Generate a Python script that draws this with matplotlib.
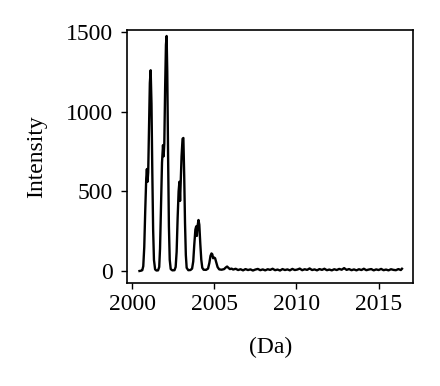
import matplotlib
matplotlib.use("Agg")
import matplotlib.pyplot as plt

# mass (Da) and intensity
mass = [
    2000.45, 2000.55, 2000.62, 2000.68, 2000.74, 2000.80, 2000.86, 2000.90,
    2000.94, 2000.98, 2001.03, 2001.08, 2001.13, 2001.18, 2001.23, 2001.28,
    2001.33, 2001.40, 2001.48, 2001.58, 2001.65, 2001.70, 2001.76, 2001.82,
    2001.88, 2001.92, 2001.96, 2002.01, 2002.06, 2002.10, 2002.14, 2002.19,
    2002.24, 2002.29, 2002.35, 2002.45, 2002.58, 2002.65, 2002.71, 2002.77,
    2002.83, 2002.88, 2002.92, 2002.96, 2003.01, 2003.07, 2003.12, 2003.17,
    2003.22, 2003.27, 2003.32, 2003.42, 2003.55, 2003.65, 2003.72, 2003.78,
    2003.85, 2003.90, 2003.94, 2003.98, 2004.04, 2004.09, 2004.15, 2004.21,
    2004.27, 2004.35, 2004.50, 2004.62, 2004.70, 2004.77, 2004.83, 2004.88,
    2004.93, 2004.98, 2005.05, 2005.12, 2005.20, 2005.30, 2005.45, 2005.60,
    2005.70, 2005.78, 2005.86, 2005.95, 2006.05, 2006.15, 2006.30, 2006.45,
    2006.60, 2006.75, 2006.90, 2007.05, 2007.20, 2007.35, 2007.50, 2007.65,
    2007.80, 2007.95, 2008.10, 2008.25, 2008.40, 2008.55, 2008.70, 2008.85,
    2009.00, 2009.15, 2009.30, 2009.45, 2009.60, 2009.75, 2009.90, 2010.05,
    2010.20, 2010.35, 2010.50, 2010.65, 2010.80, 2010.95, 2011.10, 2011.25,
    2011.40, 2011.55, 2011.70, 2011.85, 2012.00, 2012.15, 2012.30, 2012.45,
    2012.60, 2012.75, 2012.90, 2013.05, 2013.20, 2013.35, 2013.50, 2013.65,
    2013.80, 2013.95, 2014.10, 2014.25, 2014.40, 2014.55, 2014.70, 2014.85,
    2015.00, 2015.15, 2015.30, 2015.45, 2015.60, 2015.75, 2015.90, 2016.05,
    2016.20, 2016.35, 2016.42,
]
intensity = [
    0, 2, 5, 30, 150, 380, 580, 640,
    560, 620, 900, 1180, 1260, 1050, 620, 260,
    70, 10, 3, 4, 25, 140, 420, 680,
    790, 720, 800, 1150, 1420, 1475, 1250, 720,
    280, 70, 12, 4, 5, 25, 120, 330,
    500, 560, 440, 560, 720, 830, 835, 600,
    300, 100, 20, 5, 6, 15, 60, 160,
    260, 280, 220, 280, 320, 290, 170, 70,
    20, 8, 7, 15, 50, 95, 110, 105,
    80, 85, 80, 55, 25, 10, 8, 12,
    22, 28, 20, 12, 15, 9, 14, 6,
    11, 4, 12, 6, 10, 3, 9, 13,
    5, 10, 4, 11, 7, 14, 5, 9,
    3, 12, 6, 10, 4, 13, 6, 9,
    15, 5, 11, 7, 16, 6, 10, 4,
    12, 7, 14, 5, 9, 4, 11, 6,
    13, 8, 18, 7, 12, 5, 10, 4,
    11, 6, 14, 5, 9, 12, 4, 10,
    6, 13, 5, 9, 4, 11, 7, 5,
    12, 6, 14,
]

plt.rcParams["font.family"] = "Liberation Serif"
plt.rcParams["font.size"] = 17

fig = plt.figure(figsize=(4.4, 3.86), dpi=100)
ax = fig.add_axes([0.289, 0.267, 0.65, 0.655])
ax.plot(mass, intensity, color="black", linewidth=1.7)
ax.set_xlim(1999.7, 2017.1)
ax.set_ylim(-75, 1512)
ax.set_xticks([2000, 2005, 2010, 2015])
ax.set_yticks([0, 500, 1000, 1500])
ax.tick_params(direction="out", length=4, width=1)
ax.tick_params(axis="x", pad=4)
ax.tick_params(axis="y", pad=6)
for s in ax.spines.values():
    s.set_linewidth(1.2)
ax.set_xlabel("(Da)", labelpad=16)
ax.set_ylabel("Intensity", labelpad=14)
fig.savefig("out.png", dpi=100)
